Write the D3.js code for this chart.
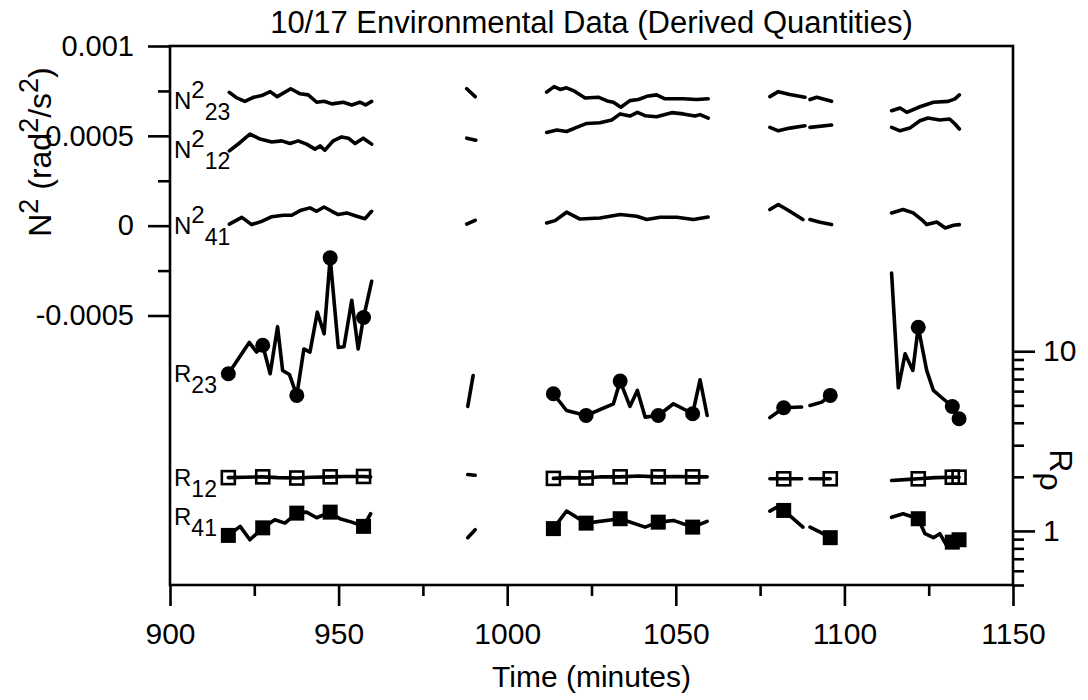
<!DOCTYPE html>
<html>
<head>
<meta charset="utf-8">
<script src="https://cdn.jsdelivr.net/npm/d3@7"></script>
<style>
  body { margin: 0; background: #fff; }
  svg { display: block; font-family: "Liberation Sans", Arial, Helvetica, sans-serif; }
</style>
</head>
<body>
<div id="chart"></div>
<script>
// 10/17 environmental data, derived quantities (N^2 and density ratio R_rho)

// --- DATA (time in minutes, null = gap) ---
const n23 = [
  [917.6,0.000742],[919.8,0.000711],[922.2,0.000692],[924.7,0.000714],[927.2,0.000724],[929.7,0.000746],
  [931.8,0.000718],[935.8,0.000762],[938.6,0.000734],[941.0,0.000728],[943.5,0.000687],[945.7,0.000692],
  [948.0,0.000678],[951.4,0.000687],[953.9,0.000672],[956.3,0.000687],[958.0,0.000672],[959.8,0.000692],
  null,
  [988.0,0.000762],[990.5,0.000718],
  null,
  [1011.7,0.000743],[1013.9,0.000774],[1015.7,0.000758],[1017.6,0.000767],[1019.6,0.000752],[1023.1,0.000711],
  [1027.0,0.000715],[1030.0,0.000692],[1031.5,0.000687],[1033.7,0.000659],[1036.4,0.000696],[1038.9,0.000702],
  [1041.4,0.00072],[1044.3,0.000728],[1046.8,0.000706],[1052.2,0.000706],[1056.2,0.000702],[1059.6,0.000706],
  null,
  [1077.9,0.000718],[1080.4,0.000746],[1083.8,0.00073],[1088.3,0.000715],
  null,
  [1089.8,0.000702],[1091.8,0.000715],[1096.2,0.000692],
  null,
  [1114.0,0.00064],[1116.5,0.000655],[1118.5,0.000631],[1122.4,0.000662],[1126.4,0.000687],[1130.8,0.000692],
  [1132.8,0.000706],[1134.1,0.000728]
];

const n12 = [
  [917.6,0.000416],[920.8,0.000463],[923.7,0.00051],[926.7,0.000482],[930.2,0.000466],[933.1,0.000472],
  [935.6,0.000457],[938.0,0.000472],[940.5,0.000454],[943.0,0.000426],[944.5,0.000444],[945.9,0.00042],
  [948.4,0.000472],[950.9,0.000494],[952.9,0.000487],[954.9,0.000457],[957.3,0.000487],[959.8,0.000454],
  null,
  [988.0,0.000487],[990.7,0.000476],
  null,
  [1011.7,0.000519],[1014.7,0.000532],[1017.6,0.000524],[1020.6,0.000547],[1023.6,0.000569],[1027.5,0.000573],
  [1031.0,0.000588],[1033.5,0.000622],[1036.4,0.00061],[1038.6,0.000631],[1040.9,0.000612],[1044.3,0.000606],
  [1048.8,0.000629],[1052.2,0.000622],[1055.7,0.00061],[1057.2,0.000618],[1059.6,0.000599],
  null,
  [1077.9,0.000547],[1080.4,0.000528],[1083.8,0.000543],[1088.3,0.000556],
  null,
  [1089.8,0.000547],[1096.2,0.00056],
  null,
  [1114.0,0.000547],[1116.5,0.000528],[1119.4,0.000543],[1122.4,0.000584],[1124.8,0.000599],[1128.3,0.000588],
  [1131.2,0.000594],[1132.8,0.000566],[1134.1,0.000538]
];

const n41 = [
  [917.6,0.000009],[921.3,0.000046],[924.2,0.000006],[927.2,0.000024],[930.2,0.00005],[933.6,0.000058],
  [936.1,0.000058],[938.6,0.000084],[941.5,0.000099],[943.5,0.00008],[945.7,0.000104],[948.0,0.00008],
  [949.9,0.000062],[952.4,0.000071],[955.4,0.000052],[957.8,0.000039],[959.8,0.00008],
  null,
  [988.0,0.000009],[990.5,0.00003],
  null,
  [1011.7,0.000015],[1014.2,0.000028],[1017.6,0.000075],[1021.6,0.000037],[1027.5,0.000043],[1033.5,0.000062],
  [1038.4,0.000052],[1041.4,0.000034],[1045.3,0.000047],[1050.3,0.000047],[1055.2,0.000034],[1059.6,0.000048],
  null,
  [1077.9,0.00009],[1080.4,0.000118],[1083.8,0.00008],[1087.7,0.000034],
  null,
  [1089.8,0.000034],[1092.8,0.000019],[1096.2,0.000006],
  null,
  [1114.0,0.000071],[1117.4,0.00009],[1120.4,0.000071],[1122.9,0.000034],[1124.4,0.000006],[1127.4,0.00002],
  [1129.9,-0.000013],[1132.4,0.000002],[1134.1,0.000006]
];

const r23 = [
  [917.3,7.5],[923.5,11.2],[925.7,9.89],[927.5,10.8],[929.7,7.5],[931.9,13.7],[933.4,7.82],[935.4,7.43],
  [937.6,5.68],[939.7,10.3],[941.5,9.89],[943.7,16.5],[945.7,12.5],[947.5,33.1],[949.9,10.5],[951.6,10.6],
  [953.9,19.2],[955.8,10.3],[957.4,15.4],[959.8,24.5],
  null,
  [988.3,4.93],[989.9,7.33],
  null,
  [1013.0,5.68],[1013.7,5.8],[1017.6,4.68],[1023.4,4.39],[1031.5,5.1],[1033.5,6.82],[1036.4,4.93],[1038.6,6.05],
  [1040.9,4.3],[1044.8,4.39],[1049.3,5.1],[1053.2,4.68],[1055.0,4.49],[1057.2,6.94],[1059.3,4.39],
  null,
  [1077.9,4.27],[1082.0,4.85],[1087.3,4.89],
  null,
  [1089.8,4.99],[1093.3,5.21],[1095.8,5.68],
  null,
  [1114.0,27.2],[1116.0,6.26],[1118.0,9.68],[1120.3,7.82],[1121.9,13.6],[1124.4,7.82],[1126.4,6.05],
  [1128.9,5.51],[1132.0,4.93],[1134.0,4.21]
];

const r12 = [
  [917.3,1.98],[922.0,1.99],[927.5,2.0],[932.0,1.98],[937.6,1.97],[942.0,1.99],[947.5,2.0],[952.0,2.01],
  [957.4,2.01],[959.5,2.0],
  null,
  [988.3,2.06],[990.5,2.04],
  null,
  [1013.7,1.96],[1018.0,1.98],[1023.4,1.97],[1028.0,2.0],[1033.5,2.0],[1039.0,2.02],[1044.8,2.0],[1050.0,2.01],
  [1055.0,2.0],[1059.3,2.0],
  null,
  [1077.9,1.95],[1082.0,1.95],[1087.3,1.95],
  null,
  [1089.8,1.95],[1095.8,1.95],
  null,
  [1114.0,1.91],[1118.0,1.93],[1121.9,1.95],[1127.0,1.98],[1132.0,1.99],[1134.0,1.99]
];

const r41 = [
  [917.3,0.944],[920.8,1.06],[923.7,0.893],[927.5,1.04],[931.1,1.154],[934.1,1.105],[937.6,1.256],
  [940.5,1.272],[943.5,1.184],[947.5,1.272],[950.4,1.169],[953.9,1.119],[957.4,1.06],[959.5,1.246],
  null,
  [988.3,0.917],[990.5,1.015],
  null,
  [1013.7,1.03],[1017.6,1.29],[1023.4,1.105],[1033.5,1.169],[1040.9,1.05],[1044.8,1.119],[1049.3,1.144],
  [1055.0,1.05],[1059.3,1.13],
  null,
  [1077.9,1.289],[1080.4,1.369],[1082.0,1.30],[1087.7,1.05],
  null,
  [1089.8,1.05],[1092.8,0.985],[1095.8,0.917],
  null,
  [1114.0,1.19],[1117.4,1.246],[1121.9,1.169],[1123.9,0.965],[1126.4,0.917],[1128.3,0.965],[1130.3,0.83],
  [1132.0,0.866],[1134.0,0.893]
];

// sample times that carry a symbol on the R curves
const markTimes = [917.3, 927.5, 937.6, 947.5, 957.4, 1013.7, 1023.4, 1033.5, 1044.8, 1055.0,
                   1082.0, 1095.8, 1121.9, 1132.0, 1134.0];

const xTicks = [900, 950, 1000, 1050, 1100, 1150];
const xMinor = [925, 975, 1025, 1075, 1125];
const nTicks = [0.001, 0.0005, 0, -0.0005];
const nMinor = [0.00075, 0.00025, -0.00025];
const rTicks = [1, 10];
const rMinor = [0.5, 0.6, 0.7, 0.8, 0.9, 2, 3, 4, 5, 6, 7, 8, 9];

// --- SETUP ---
const width = 1088;
const height = 700;
const mLeft = 170, mRight = 1013, mTop = 46, mBottom = 585;

const svg = d3.select("#chart")
  .append("svg")
  .attr("width", width)
  .attr("height", height);

svg.append("rect").attr("width", width).attr("height", height).attr("fill", "#fff");

const x = d3.scaleLinear().domain([900, 1150]).range([mLeft, mRight]);
const yN = d3.scaleLinear().domain([-0.002, 0.001]).range([mBottom, mTop]);
const yR = d3.scaleLog().domain([0.5, 500]).range([mBottom, mTop]);

// --- AXES ---
function styleAxis(g, size) {
  g.select(".domain").remove();
  g.selectAll(".tick line").attr("stroke", "#000").attr("stroke-width", 2.6);
  g.selectAll(".tick text").attr("fill", "#000").style("font-size", size + "px");
}

svg.append("g")
  .attr("transform", `translate(0,${mBottom})`)
  .call(d3.axisBottom(x).tickValues(xMinor).tickSize(11).tickFormat(""))
  .call(g => styleAxis(g, 30));
svg.append("g")
  .attr("transform", `translate(0,${mBottom})`)
  .call(d3.axisBottom(x).tickValues(xTicks).tickSize(21).tickPadding(17).tickFormat(d3.format("d")))
  .call(g => styleAxis(g, 30));

svg.append("g")
  .attr("transform", `translate(${mLeft},0)`)
  .call(d3.axisLeft(yN).tickValues(nMinor).tickSize(12).tickFormat(""))
  .call(g => styleAxis(g, 29));
svg.append("g")
  .attr("transform", `translate(${mLeft},0)`)
  .call(d3.axisLeft(yN).tickValues(nTicks).tickSize(22).tickPadding(14).tickFormat(d => String(d)))
  .call(g => styleAxis(g, 29));

svg.append("g")
  .attr("transform", `translate(${mRight},0)`)
  .call(d3.axisRight(yR).tickValues(rMinor).tickSize(11).tickFormat(""))
  .call(g => styleAxis(g, 30));
svg.append("g")
  .attr("transform", `translate(${mRight},0)`)
  .call(d3.axisRight(yR).tickValues(rTicks).tickSize(22).tickPadding(8).tickFormat(d3.format("d")))
  .call(g => styleAxis(g, 30));

// frame
svg.append("rect")
  .attr("x", mLeft).attr("y", mTop)
  .attr("width", mRight - mLeft).attr("height", mBottom - mTop)
  .attr("fill", "none").attr("stroke", "#000").attr("stroke-width", 2.6);

// --- LINES ---
const plot = svg.append("g");

function drawSeries(data, yScale) {
  const line = d3.line()
    .defined(d => d !== null)
    .x(d => x(d[0]))
    .y(d => yScale(d[1]));
  plot.append("path")
    .datum(data)
    .attr("d", line)
    .attr("fill", "none")
    .attr("stroke", "#000")
    .attr("stroke-width", 3.6)
    .attr("stroke-linejoin", "round")
    .attr("stroke-linecap", "round");
}

[n23, n12, n41].forEach(s => drawSeries(s, yN));
[r23, r12, r41].forEach(s => drawSeries(s, yR));

const marked = s => s.filter(d => d && markTimes.some(t => Math.abs(t - d[0]) < 0.05));

plot.selectAll(".m23")
  .data(marked(r23))
  .join("circle")
  .attr("cx", d => x(d[0]))
  .attr("cy", d => yR(d[1]))
  .attr("r", 7.5)
  .attr("fill", "#000");

const sq = 13;
plot.selectAll(".m12")
  .data(marked(r12))
  .join("rect")
  .attr("x", d => x(d[0]) - sq / 2)
  .attr("y", d => yR(d[1]) - sq / 2)
  .attr("width", sq).attr("height", sq)
  .attr("fill", "none")
  .attr("stroke", "#000")
  .attr("stroke-width", 2.6);

plot.selectAll(".m41")
  .data(marked(r41))
  .join("rect")
  .attr("x", d => x(d[0]) - sq / 2 - 1)
  .attr("y", d => yR(d[1]) - sq / 2 - 1)
  .attr("width", sq + 2).attr("height", sq + 2)
  .attr("fill", "#000");

// --- SERIES LABELS ---
function subLabel(px, py, base, sup, sub) {
  const t = svg.append("text")
    .attr("x", px).attr("y", py)
    .style("font-size", "24px")
    .attr("fill", "#000");
  t.append("tspan").text(base);
  if (sup) t.append("tspan").attr("dy", -11).text(sup);
  t.append("tspan").attr("dy", sup ? 22 : 11).style("font-size", "23px").text(sub);
}

subLabel(174, 109, "N", "2", "23");
subLabel(174, 158, "N", "2", "12");
subLabel(174, 234, "N", "2", "41");
subLabel(174, 382, "R", null, "23");
subLabel(174, 486, "R", null, "12");
subLabel(174, 525, "R", null, "41");

// --- TITLES ---
svg.append("text")
  .attr("x", (mLeft + mRight) / 2).attr("y", 33)
  .attr("text-anchor", "middle")
  .style("font-size", "31px")
  .text("10/17 Environmental Data (Derived Quantities)");

svg.append("text")
  .attr("x", (mLeft + mRight) / 2).attr("y", 687)
  .attr("text-anchor", "middle")
  .style("font-size", "30px")
  .text("Time (minutes)");

const yl = svg.append("text")
  .attr("transform", "translate(51,152) rotate(-90)")
  .attr("text-anchor", "middle")
  .style("font-size", "32px");
yl.append("tspan").text("N");
yl.append("tspan").attr("dy", -13).style("font-size", "27px").text("2");
yl.append("tspan").attr("dy", 13).text(" (rad");
yl.append("tspan").attr("dy", -13).style("font-size", "27px").text("2");
yl.append("tspan").attr("dy", 13).text("/s");
yl.append("tspan").attr("dy", -13).style("font-size", "27px").text("2");
yl.append("tspan").attr("dy", 13).text(")");

const yr = svg.append("text")
  .attr("transform", "translate(1050,470) rotate(90)")
  .attr("text-anchor", "middle")
  .style("font-size", "32px");
yr.append("tspan").text("R");
yr.append("tspan").attr("dy", 10).text("ρ");
</script>
</body>
</html>
